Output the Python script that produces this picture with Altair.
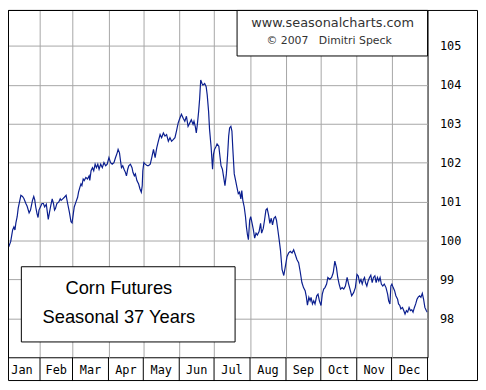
import altair as alt
import pandas as pd

# ---- data ----
days = [
    1.4, 2.8, 4.3, 5.7, 7.4, 8.5, 9.4, 10.2, 11.3, 12.2,
    13.6, 14.5, 15.9, 17.1, 18.8, 19.9, 21.6, 22.8, 24.5, 25.6,
    26.4, 27.3, 28.4, 29.3, 30.1, 31.3, 32.7, 33.9, 35.0, 36.4,
    37.3, 38.1, 39.2, 40.3, 41.5, 42.6, 43.5, 44.3, 45.5, 47.2,
    48.4, 49.2, 50.6, 52.0, 53.5, 54.8, 56.3, 57.7, 58.6, 59.7,
    60.5, 62.0, 63.4, 64.2, 65.4, 66.3, 67.1, 68.2, 69.1, 70.5,
    71.9, 73.3, 73.9, 75.0, 76.2, 77.3, 78.5, 79.6, 80.8, 81.9,
    83.3, 84.7, 86.1, 87.6, 88.9, 90.4, 91.8, 93.2, 94.7, 96.1,
    97.5, 98.3, 99.5, 100.4, 101.2, 102.3, 103.4, 104.6, 105.5, 106.6,
    107.5, 108.9, 110.3, 111.1, 112.3, 113.2, 114.5, 116.0, 117.1, 118.3,
    119.1, 119.6, 120.5, 121.7, 123.4, 124.5,
    126.0, 127.3, 128.8, 130.2, 131.6, 133.0, 134.5, 135.8, 137.3, 138.7,
    140.1, 141.6, 143.0, 144.4, 145.8, 147.3, 148.6, 150.1, 151.5, 152.9,
    154.4, 155.8, 157.2, 158.6, 160.1, 161.4, 162.9, 163.7, 164.8, 165.7,
    166.6, 167.7, 168.6, 169.5, 170.6, 171.4, 172.9, 174.2, 175.1, 176.3,
    177.1, 178.5, 179.7, 180.5, 181.4, 182.8, 183.6, 185.1, 186.2, 187.0,
    188.2, 189.3, 190.4, 191.6, 192.7, 193.6, 194.4, 195.5, 196.4, 197.2,
    198.4, 199.6, 200.7, 201.9, 203.0, 204.1, 204.9, 205.8, 207.0, 208.1,
    208.9, 209.8, 210.6, 211.7, 212.6, 213.8, 214.9, 216.0, 217.2, 218.3,
    219.8, 221.1, 222.0, 223.4, 224.5, 225.7, 226.8, 228.0, 229.1, 230.3,
    231.4, 232.6, 233.9, 234.8, 236.0, 237.1, 238.2, 239.6, 241.1, 242.5,
    243.9, 245.3, 246.7, 248.2, 249.6, 251.0, 252.4, 253.9, 255.2, 256.7,
    258.1, 259.5, 260.4, 261.5, 262.7, 263.8, 264.6, 265.8, 266.9, 268.0,
    269.5, 270.6, 271.8, 273.2, 274.3, 275.5, 276.6, 278.0, 279.1, 280.8,
    282.3, 283.7, 285.1, 286.5, 287.6, 288.8, 290.0, 291.4, 292.8, 294.2,
    295.7, 297.0, 298.5, 299.6, 301.3, 302.8, 304.2, 305.3, 306.4, 307.6,
    308.7, 309.8, 310.7, 311.5, 312.7, 313.8, 315.0, 316.1, 317.3, 318.4,
    319.6, 320.7, 321.8, 323.0, 324.1, 325.2, 326.4, 327.7, 329.2, 330.6,
    331.5, 332.6, 333.4, 334.3, 335.4, 336.6, 337.7, 339.2, 340.0, 341.1,
    342.0, 343.4, 344.5, 345.6, 346.8, 347.9, 349.1, 350.2, 351.4, 352.5,
    353.7, 354.8, 355.9, 357.1, 358.2, 359.3, 360.5, 361.6, 362.7, 363.9,
    364.8,
]

values = [
    99.99, 99.93, 99.86, 99.97, 100.27, 100.35, 100.27, 100.45, 100.61, 100.83,
    101.03, 101.16, 101.13, 101.08, 100.95, 100.88, 100.71, 100.78, 101.03, 101.13,
    101.05, 100.86, 100.69, 100.59, 100.78, 100.86, 100.95, 100.95, 100.86, 100.93,
    100.73, 100.54, 100.73, 100.90, 101.07, 100.95, 100.78, 100.82, 100.95, 100.99,
    101.07, 101.03, 101.07, 101.11, 101.16, 100.95, 100.73, 100.48, 100.45, 100.69,
    100.86, 100.99, 101.11, 101.24, 101.37, 101.45, 101.41, 101.58, 101.54, 101.62,
    101.58, 101.66, 101.54, 101.79, 101.87, 101.79, 101.96, 101.87, 101.96, 101.83,
    101.96, 101.87, 102.00, 101.92, 101.96, 102.13, 102.00, 101.96, 102.00, 102.13,
    102.25, 102.34, 102.25, 102.04, 101.87, 101.92, 101.83, 101.75, 101.66, 101.83,
    101.92, 101.96, 101.87, 101.75, 101.66, 101.71, 101.54, 101.45, 101.33, 101.24,
    101.41, 101.79, 102.00, 101.96, 101.92, 101.92,
    101.96, 102.13, 102.34, 102.13, 102.38, 102.55, 102.72, 102.64, 102.76, 102.68,
    102.72, 102.55, 102.64, 102.55, 102.59, 102.64, 102.81, 103.02, 103.14, 103.24,
    103.14, 103.06, 103.19, 102.93, 103.02, 103.10, 102.98, 103.06, 102.93, 102.76,
    102.98, 103.31, 103.65, 104.12, 104.03, 103.99, 104.03, 103.95, 103.74, 103.31,
    102.86, 102.38, 101.83, 102.21, 102.34, 102.42, 102.48, 102.42, 102.13, 101.92,
    101.83, 101.62, 101.41, 101.71, 102.21, 102.68, 102.89, 102.93, 102.81, 102.34,
    101.71, 101.54, 101.37, 101.20, 101.24, 101.07, 101.28, 101.03, 100.86, 100.61,
    100.35, 100.14, 100.02, 100.52, 100.61, 100.44, 100.27, 100.06, 100.19, 100.14,
    100.23, 100.44, 100.19, 100.31, 100.52, 100.78, 100.82, 100.65, 100.44, 100.57,
    100.40, 100.57, 100.61, 100.52, 100.27, 100.02, 99.76, 99.26, 99.10, 99.34,
    99.59, 99.68, 99.72, 99.68, 99.76, 99.64, 99.51, 99.43, 99.21, 98.92,
    98.79, 98.71, 98.58, 98.34, 98.54, 98.45, 98.54, 98.37, 98.45, 98.37,
    98.58, 98.62, 98.45, 98.33, 98.62, 98.75, 98.79, 98.88, 99.05, 99.00,
    99.05, 99.17, 99.47, 99.30, 99.05, 98.88, 98.75, 98.79, 98.75, 98.83,
    99.05, 98.88, 98.71, 98.58, 98.66, 98.79, 99.13, 99.09, 98.92, 99.00,
    98.88, 99.00, 99.05, 98.92, 98.83, 98.96, 99.05, 99.11, 98.92, 99.05,
    99.09, 98.92, 99.05, 98.96, 99.05, 98.88, 98.83, 98.88, 98.79, 98.62,
    98.45, 98.37, 98.83, 98.88, 98.79, 98.71, 98.58, 98.49, 98.37, 98.33,
    98.24, 98.28, 98.20, 98.11, 98.20, 98.16, 98.28, 98.20, 98.22, 98.16,
    98.28, 98.37, 98.49, 98.55, 98.58, 98.54, 98.64, 98.49, 98.28, 98.20,
    98.16,
]
assert len(days) == len(values)

months = ["Jan", "Feb", "Mar", "Apr", "May", "Jun",
          "Jul", "Aug", "Sep", "Oct", "Nov", "Dec"]
month_mid = [15.5, 45, 74.5, 105, 135.5, 166, 196.5, 227.5, 258, 288.5, 319, 349.5]
month_bounds = [31, 59, 90, 120, 151, 181, 212, 243, 273, 304, 334, 365]
y_ticks = [98, 99, 100, 101, 102, 103, 104, 105]

info_lines = ["www.seasonalcharts.com", "\u00a9 2007\u00a0\u00a0\u00a0Dimitri Speck"]
title_lines = ["Corn Futures", "Seasonal 37 Years"]

# ---- layout ----
W, H = 424, 351
RIGHT, BOTTOM = 51, 24
GRID = "#a6a6a6"
LINE = "#0b1f8f"

xscale = alt.Scale(domain=[3.4, 365], nice=False, zero=False)
yscale = alt.Scale(domain=[97.0, 105.92], nice=False, zero=False)

xaxis = alt.Axis(values=month_bounds[:-1], grid=True, gridColor=GRID, gridOpacity=1,
                 labels=False, ticks=False, domain=False, title=None)
x_enc = alt.X("day:Q", scale=xscale, axis=xaxis)

series = pd.DataFrame({"day": days, "value": values})

line = alt.Chart(series).mark_line(color=LINE, strokeWidth=1.2, clip=True).encode(
    x=x_enc,
    y=alt.Y("value:Q", scale=yscale,
            axis=alt.Axis(orient="right", values=y_ticks, grid=True, gridColor=GRID,
                          gridOpacity=1, tickSize=0, domain=False, labelPadding=12,
                          labelAlign="left", labelBaseline="middle",
                          labelFont="DejaVu Sans Mono", labelFontSize=12,
                          labelColor="black", title=None)),
)

seps = alt.Chart(pd.DataFrame({"day": month_bounds})).mark_rule(
    color="black", strokeWidth=1).encode(
    x=x_enc, y=alt.value(H), y2=alt.value(H + BOTTOM))

mlabels = alt.Chart(pd.DataFrame({"day": month_mid, "name": months})).mark_text(
    font="DejaVu Sans Mono", fontSize=12, color="black", baseline="middle").encode(
    x=x_enc, y=alt.value(H + 12.5), text="name:N")

one = pd.DataFrame({"k": [0]})

frame = alt.Chart(one).mark_rect(fillOpacity=0, stroke="black", strokeWidth=1).encode(
    x=alt.value(0.5), x2=alt.value(W + RIGHT - 0.5),
    y=alt.value(0.5), y2=alt.value(H + BOTTOM - 0.5))

info_box = alt.Chart(one).mark_rect(fill="white", stroke="black", strokeWidth=1).encode(
    x=alt.value(231.5), x2=alt.value(W), y=alt.value(0.5), y2=alt.value(46.5))

info1 = alt.Chart(one).mark_text(text=info_lines[0], font="DejaVu Sans", fontSize=13,
                                 color="#333333", baseline="middle").encode(
    x=alt.value(328), y=alt.value(13.5))
info2 = alt.Chart(one).mark_text(text=info_lines[1], font="DejaVu Sans", fontSize=11,
                                 color="#333333", baseline="middle").encode(
    x=alt.value(324.5), y=alt.value(31))

title_box = alt.Chart(one).mark_rect(fill="white", stroke="black", strokeWidth=1).encode(
    x=alt.value(13.5), x2=alt.value(229.5), y=alt.value(259.5), y2=alt.value(335.5))

t1 = alt.Chart(one).mark_text(text=title_lines[0], font="Liberation Sans", fontSize=18.5,
                              color="black", baseline="middle").encode(
    x=alt.value(112), y=alt.value(281))
t2 = alt.Chart(one).mark_text(text=title_lines[1], font="Liberation Sans", fontSize=18.5,
                              color="black", baseline="middle").encode(
    x=alt.value(112), y=alt.value(310))

chart = alt.layer(line, seps, mlabels, frame, info_box, info1, info2,
                  title_box, t1, t2).properties(
    width=W, height=H,
    autosize=alt.AutoSizeParams(type="none"),
    padding={"left": 0, "top": 0, "right": RIGHT, "bottom": BOTTOM},
    background="white",
).configure_view(stroke="black", strokeWidth=1)

chart.save("out.html", embed_options={"renderer": "svg", "actions": False})
